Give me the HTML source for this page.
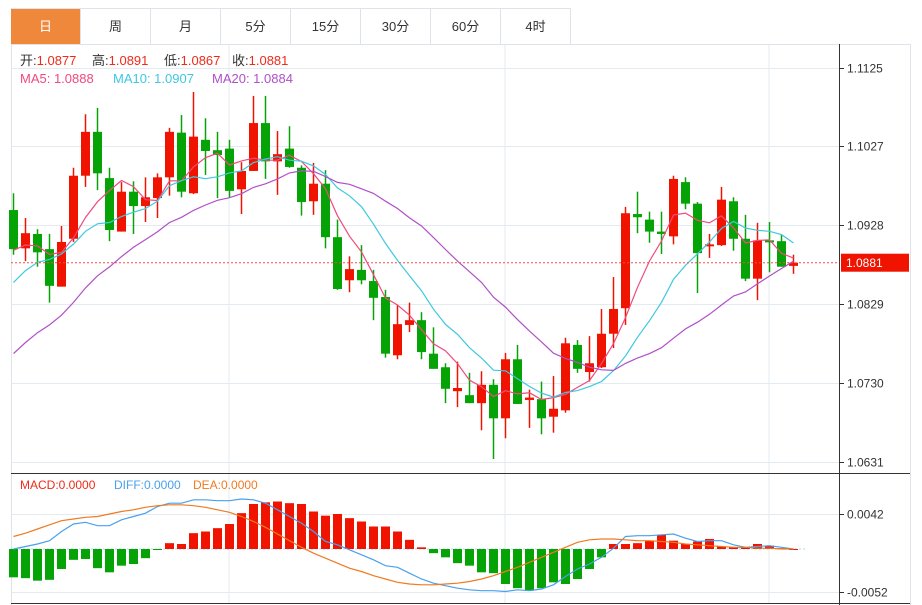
<!DOCTYPE html>
<html><head><meta charset="utf-8">
<style>
body{margin:0;background:#fff;font-family:"Liberation Sans","Noto Sans CJK SC",sans-serif;}
#wrap{position:relative;width:922px;height:605px;overflow:hidden;}
.tabs{position:absolute;left:11px;top:8px;height:36px;display:flex;border-top:1px solid #dde3e8;}
.tab{width:69px;height:36px;border-right:1px solid #dde3e8;text-align:center;line-height:36px;font-size:13px;color:#333;}
.tab.active{background:#f0883c;color:#fff;}
svg{position:absolute;left:0;top:0;}
</style></head><body>
<div id="wrap">
<div class="tabs">
<div class="tab active">日</div>
<div class="tab">周</div>
<div class="tab">月</div>
<div class="tab">5分</div>
<div class="tab">15分</div>
<div class="tab">30分</div>
<div class="tab">60分</div>
<div class="tab">4时</div>
</div>
<svg id="chart" width="922" height="605"></svg>
</div>
<script>
const opens=[1.0947,1.0899,1.0917,1.0898,1.0851,1.0911,1.0990,1.1045,1.0987,1.0920,1.0970,1.0952,1.0962,1.0988,1.1044,1.0968,1.1035,1.1022,1.1024,1.0973,1.0996,1.1056,1.1008,1.1024,1.1000,1.0958,1.0980,1.0913,1.0859,1.0872,1.0858,1.0838,1.0765,1.0803,1.0809,1.0767,1.0750,1.0720,1.0715,1.0705,1.0728,1.0686,1.0760,1.0709,1.0710,1.0688,1.0696,1.0778,1.0744,1.0750,1.0792,1.0824,1.0942,1.0935,1.0920,1.0914,1.0982,1.0955,1.0902,1.0903,1.0958,1.0911,1.0861,1.0909,1.0908,1.0877];
const highs=[1.0968,1.0937,1.0923,1.0917,1.0927,1.1000,1.1067,1.1075,1.1000,1.0982,1.0983,1.0988,1.0993,1.1050,1.1066,1.1095,1.1062,1.1045,1.1035,1.1007,1.1090,1.1090,1.1046,1.1052,1.1003,1.1006,1.0997,1.0935,1.0889,1.0903,1.0872,1.0847,1.0828,1.0831,1.0819,1.0800,1.0755,1.0757,1.0743,1.0745,1.0735,1.0768,1.0778,1.0722,1.0732,1.0739,1.0787,1.0784,1.0789,1.0823,1.0863,1.0951,1.0970,1.0945,1.0945,1.0990,1.0988,1.0957,1.0917,1.0976,1.0963,1.0941,1.0931,1.0932,1.0916,1.0891];
const lows=[1.0891,1.0883,1.0876,1.0831,1.0851,1.0907,1.0976,1.0972,1.0908,1.0920,1.0917,1.0932,1.0937,1.0965,1.0963,1.0967,1.0991,1.0962,1.0963,1.0942,1.0996,1.0986,1.0966,1.1000,1.0940,1.0941,1.0899,1.0847,1.0844,1.0854,1.0809,1.0762,1.0760,1.0794,1.0760,1.0748,1.0705,1.0700,1.0705,1.0671,1.0635,1.0661,1.0704,1.0674,1.0666,1.0668,1.0693,1.0743,1.0732,1.0749,1.0774,1.0803,1.0918,1.0906,1.0892,1.0904,1.0948,1.0843,1.0887,1.0902,1.0896,1.0858,1.0834,1.0869,1.0876,1.0867];
const closes=[1.0898,1.0918,1.0894,1.0852,1.0907,1.0990,1.1045,1.0993,1.0922,1.0970,1.0952,1.0963,1.0988,1.1045,1.0970,1.1039,1.1021,1.1016,1.0971,1.0996,1.1056,1.1008,1.1017,1.1001,1.0957,1.0980,1.0913,1.0848,1.0873,1.0859,1.0837,1.0767,1.0804,1.0809,1.0769,1.0748,1.0723,1.0724,1.0705,1.0728,1.0686,1.0760,1.0704,1.0712,1.0686,1.0698,1.0780,1.0748,1.0755,1.0792,1.0823,1.0943,1.0938,1.0920,1.0917,1.0986,1.0955,1.0893,1.0904,1.0960,1.0911,1.0861,1.0909,1.0907,1.0876,1.0881];
const prevCloses=[1.0640,1.0650,1.0655,1.0665,1.0670,1.0680,1.0690,1.0700,1.0710,1.0720,1.0770,1.0790,1.0815,1.0840,1.0865,1.0885,1.0900,1.0905,1.0895];
const macdHist=[-0.0034,-0.0035,-0.0038,-0.0037,-0.0024,-0.0013,-0.0012,-0.0023,-0.0028,-0.0020,-0.0018,-0.0011,-0.0001,0.0007,0.0006,0.0019,0.0021,0.0025,0.0030,0.0043,0.0054,0.0056,0.0057,0.0055,0.0054,0.0045,0.0040,0.0042,0.0037,0.0033,0.0027,0.0027,0.0021,0.0011,0.0002,-0.0005,-0.0010,-0.0017,-0.0020,-0.0028,-0.0029,-0.0042,-0.0047,-0.0050,-0.0047,-0.0040,-0.0042,-0.0036,-0.0024,-0.0010,0.0006,0.0006,0.0007,0.0010,0.0017,0.0010,0.0006,0.0009,0.0012,0.0003,0.0002,0.0002,0.0006,0.0004,0.0001,0.0000];
const diffVals=[0,0.0003,0.0006,0.0010,0.0021,0.0030,0.0032,0.0028,0.0028,0.0035,0.0039,0.0043,0.0051,0.0055,0.0055,0.0059,0.0059,0.0058,0.0058,0.0060,0.0059,0.0055,0.0047,0.0039,0.0031,0.0021,0.0009,0.0005,-0.0001,-0.0007,-0.0013,-0.0020,-0.0022,-0.0029,-0.0036,-0.0041,-0.0044,-0.0047,-0.0049,-0.0050,-0.0050,-0.0051,-0.0049,-0.0050,-0.0048,-0.0043,-0.0033,-0.0024,-0.0018,-0.0010,0.0001,0.0015,0.0016,0.0016,0.0017,0.0018,0.0013,0.0009,0.0010,0.0010,0.0005,0.0002,0.0003,0.0004,0.0002,0];
const deaVals=[0.0015,0.0019,0.0024,0.0029,0.0034,0.0036,0.0038,0.0039,0.0042,0.0045,0.0047,0.0050,0.0052,0.0053,0.0053,0.0052,0.0050,0.0047,0.0044,0.0039,0.0033,0.0026,0.0018,0.0010,0.0002,-0.0005,-0.0011,-0.0017,-0.0023,-0.0027,-0.0032,-0.0036,-0.0040,-0.0042,-0.0043,-0.0043,-0.0042,-0.0041,-0.0039,-0.0036,-0.0032,-0.0027,-0.0022,-0.0016,-0.0010,-0.0004,0.0002,0.0008,0.0011,0.0012,0.0012,0.0011,0.0010,0.0010,0.0009,0.0008,0.0006,0.0005,0.0004,0.0003,0.0002,0.0002,0.0001,0.0001,0.0000,0];
const priceTicks=[1.1125,1.1027,1.0928,1.0829,1.0730,1.0631];
const macdTicks=[0.0042,-0.0052];
const lastPrice=1.0881;

const NS='http://www.w3.org/2000/svg';
const svg=document.getElementById('chart');
function el(tag,attrs,parent){const e=document.createElementNS(NS,tag);for(const k in attrs)e.setAttribute(k,attrs[k]);(parent||svg).appendChild(e);return e;}
const yP=p=>68+(1.1125-p)/0.0099*79;
const yM=v=>549-v/0.0042*35;
const xB=i=>13+i*12;
const RED='#f01400',GREEN='#06a306';

// grid
[229,505,769].forEach(x=>{const g=el('line',{x1:x,y1:45,x2:x,y2:603,stroke:'#e3ebf0'});

});
el('line',{x1:11,y1:44.5,x2:910,y2:44.5,stroke:'#dde3e8'});
el('line',{x1:11.5,y1:44,x2:11.5,y2:605,stroke:'#dde3e8'});
el('line',{x1:910.5,y1:44,x2:910.5,y2:605,stroke:'#dde3e8'});
priceTicks.forEach(p=>{const y=Math.round(yP(p))+0.5;
const g=el('line',{x1:11,y1:y,x2:839,y2:y,stroke:'#e3ebf0'});


el('line',{x1:839,y1:y,x2:844,y2:y,stroke:'#333'});
const t=el('text',{x:847,y:y+4,'font-size':12,fill:'#333'});t.textContent=p.toFixed(4);

});
// axis line
el('line',{x1:839.5,y1:44,x2:839.5,y2:605,stroke:'#333'});
// MACD panel borders
el('line',{x1:11,y1:473.5,x2:910,y2:473.5,stroke:'#333'});
el('line',{x1:11,y1:603.5,x2:910,y2:603.5,stroke:'#333'});
macdTicks.forEach(v=>{const y=Math.round(yM(v))+0.5;
const g=el('line',{x1:11,y1:y,x2:839,y2:y,stroke:'#e3ebf0'});


el('line',{x1:839,y1:y,x2:844,y2:y,stroke:'#333'});
const t=el('text',{x:847,y:y+4,'font-size':12,fill:'#333'});t.textContent=v.toFixed(4);

});

// candles
closes.forEach((c,i)=>{const o=opens[i],up=c>=o,col=up?RED:GREEN,x=xB(i);
const g=el('g',{});


el('line',{x1:x+0.5,y1:yP(highs[i]),x2:x+0.5,y2:yP(lows[i]),stroke:col,'stroke-width':1.5},g);
const t=yP(Math.max(o,c)),b=yP(Math.min(o,c));
el('rect',{x:x-4,y:t,width:9,height:Math.max(2,b-t),fill:col},g);});

// MAs
const all=prevCloses.concat(closes),off=prevCloses.length;
function ma(n){return closes.map((_,i)=>{let s=0;for(let k=0;k<n;k++)s+=all[off+i-k];return s/n;});}
[[5,'#f04a7c','ma5-line'],[10,'#3ec8e0','ma10-line'],[20,'#b050c8','ma20-line']].forEach(([n,col,name])=>{
const v=ma(n);const d=v.map((m,i)=>(i?'L':'M')+(xB(i)+0.5)+' '+yP(m).toFixed(1)).join(' ');
const p=el('path',{d:d,fill:'none',stroke:col,'stroke-width':1.2});

});

// last price line + label
const ly=yP(lastPrice);
el('line',{x1:11,y1:ly,x2:839,y2:ly,stroke:'#f05050','stroke-dasharray':'2,2','stroke-width':1});
const lb=el('rect',{x:841,y:ly-9,width:68,height:18,fill:RED});


const lt=el('text',{x:846,y:ly+4.5,'font-size':12,fill:'#fff'});lt.textContent=lastPrice.toFixed(4);

// MACD histogram
el('line',{x1:11,y1:yM(0),x2:805,y2:yM(0),stroke:'#a8d8f0','stroke-dasharray':'2,2'});
macdHist.forEach((v,i)=>{const y0=yM(0),y1=yM(v);
const r=el('rect',{x:xB(i)-4,y:Math.min(y0,y1),width:9,height:Math.max(1,Math.abs(y1-y0)),fill:v>=0?RED:GREEN});

});
[[diffVals,'#4aa0ec','diff-line'],[deaVals,'#f07a20','dea-line']].forEach(([arr,col,name])=>{
const d=arr.map((v,i)=>(i?'L':'M')+(xB(i)+0.5)+' '+yM(v).toFixed(1)).join(' ');
const p=el('path',{d:d,fill:'none',stroke:col,'stroke-width':1.2});

});

// legends
function txt(x,y,s,col,size,name){const t=el('text',{x:x,y:y,'font-size':size,fill:col});t.textContent=s;

return t;}
const hdr=[['开:',20,'1.0877'],['高:',92,'1.0891'],['低:',164,'1.0867'],['收:',232,'1.0881']];
hdr.forEach(([k,x,v])=>{const t=el('text',{x:x,y:65,'font-size':13,fill:'#333'});


t.textContent=k;const s=el('tspan',{fill:'#f02a1a'},t);s.textContent=v;});
txt(20,83,'MA5: 1.0888','#f04a7c',13,'ma5-legend');
txt(113,83,'MA10: 1.0907','#3ec8e0',13,'ma10-legend');
txt(212,83,'MA20: 1.0884','#b050c8',13,'ma20-legend');
txt(20,489,'MACD:0.0000','#f02a1a',12,'macd-legend');
txt(114,489,'DIFF:0.0000','#4aa0ec',12,'diff-legend');
txt(193,489,'DEA:0.0000','#f07a20',12,'dea-legend');
</script>
</body></html>
